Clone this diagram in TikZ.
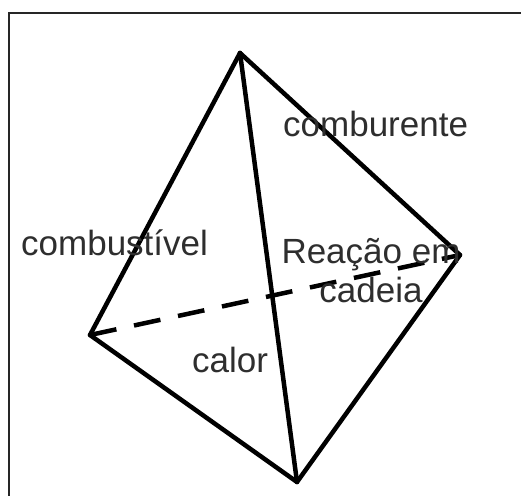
\documentclass[tikz,border=0pt]{standalone}
\usepackage{fontspec}
\setmainfont{Liberation Sans}
\definecolor{txt}{rgb}{0.18,0.18,0.18}
\begin{document}
\begin{tikzpicture}[x=1pt,y=-1pt,
  edge/.style={line width=4.5pt,line cap=round,line join=round},
  hid/.style={line width=4.5pt,dash pattern=on 27pt off 18pt},
  lbl/.style={font=\fontsize{35}{39}\selectfont,text=txt,inner sep=0pt,anchor=base west},
  frame/.style={line width=2pt,draw=black!85}]
\useasboundingbox (0,0) rectangle (521,496);
\coordinate (tl) at (9,13);
\coordinate (tr) at (521,13);
\coordinate (bl) at (9,496);
\draw[frame] (tr) -- (tl) -- (bl);
\coordinate (T) at (240,53);
\coordinate (L) at (90,335);
\coordinate (B) at (297,482);
\coordinate (R) at (460,255);
\draw[hid] (L) -- (R);
\draw[edge] (T) -- (L);
\draw[edge] (T) -- (R);
\draw[edge] (T) -- (B);
\draw[edge] (L) -- (B);
\draw[edge] (B) -- (R);
\node[lbl] (comb) at (283,136) {comburente};
\node[lbl] (fuel) at (21,255) {combustível};
\node[lbl] (heat) at (192,372) {calor};
\node[lbl,anchor=base,align=center] (chain) at (371,302) {Reação em\\cadeia};
\end{tikzpicture}
\end{document}
